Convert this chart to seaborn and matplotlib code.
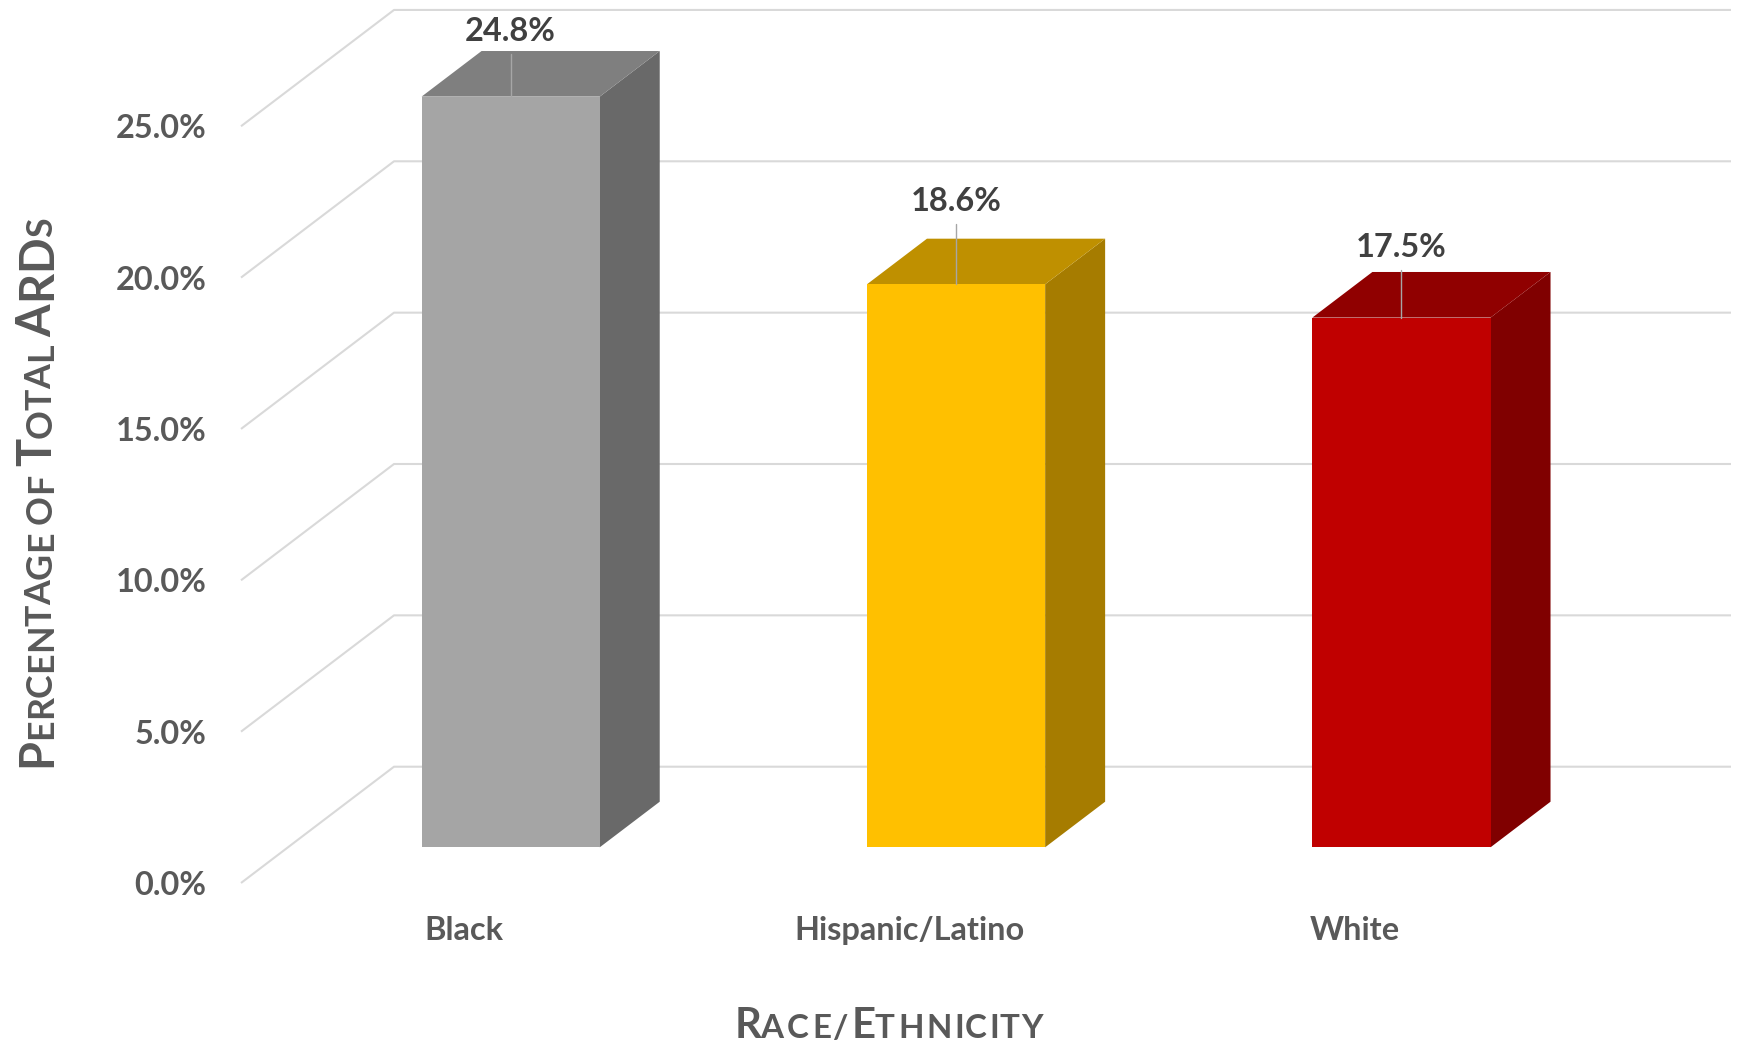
import numpy as np
import pandas as pd
import seaborn as sns
import matplotlib
matplotlib.use("Agg")
import matplotlib.pyplot as plt
from matplotlib.patches import Polygon
from matplotlib.transforms import Affine2D
from matplotlib.font_manager import FontProperties, findfont
from matplotlib.ft2font import FT2Font
try:
    from matplotlib.ft2font import LoadFlags
    NO_HINT = LoadFlags.NO_HINTING
except ImportError:
    from matplotlib.ft2font import LOAD_NO_HINTING as NO_HINT

# ---------------- data ----------------
categories = ["Black", "Hispanic/Latino", "White"]
values = [24.8, 18.6, 17.5]
value_labels = ["24.8%", "18.6%", "17.5%"]
y_ticks = [0, 5, 10, 15, 20, 25]
y_tick_labels = ["0.0%", "5.0%", "10.0%", "15.0%", "20.0%", "25.0%"]
front_colors = ["#a5a5a5", "#ffc000", "#c00000"]
side_colors = ["#696969", "#a67c00", "#800000"]
top_colors = ["#7f7f7f", "#bf9000", "#900000"]
# small-caps titles: (text, "L" = full cap / "S" = small cap), words separated
x_title_words = [[("R", "L"), ("ACE/", "S"), ("E", "L"), ("THNICITY", "S")]]
y_title_words = [[("P", "L"), ("ERCENTAGE", "S")], [("OF", "S")],
                 [("T", "L"), ("OTAL", "S")], [("ARD", "L"), ("S", "S")]]

# ---------------- style / geometry ----------------
W, H = 1740, 1050
PX_CAT = 445.4      # pixels per category step
PX_PCT = 30.27      # pixels per percent
AX_L, AX_R, AX_B = 241, 1731, 883
FLOOR_DX = 153 / PX_CAT     # depth of floor in x data units
FLOOR_DY = 116.3 / PX_PCT   # depth of floor in y data units
Z_FRONT, Z_BACK = 0.307, 0.699
BAR_W = 0.4
GRID_C = "#d9d9d9"
TXT_C = "#595959"
LBL_C = "#404040"
label_offsets_px = [56, 73, 61]
FONT = "Lato"

sns.set_theme(style="white")
plt.rcParams["font.family"] = [FONT, "DejaVu Sans"]
plt.rcParams["font.weight"] = "bold"

fig = plt.figure(figsize=(W / 100, H / 100), dpi=100)
ax = fig.add_axes([AX_L / W, (H - AX_B) / H, (AX_R - AX_L) / W, AX_B / H])

df = pd.DataFrame({"category": categories, "value": values})
sns.barplot(data=df, x="category", y="value", hue="category", palette=front_colors,
            width=BAR_W, saturation=1, errorbar=None, legend=False, ax=ax,
            linewidth=0, zorder=3)

xmin = -0.5
xmax = -0.5 + (AX_R - AX_L) / PX_CAT
ax.set_xlim(xmin, xmax)
ax.set_ylim(0, AX_B / PX_PCT)

# gridlines on floor diagonal + back wall
for v in y_ticks:
    ax.plot([xmin, xmin + FLOOR_DX, xmax], [v, v + FLOOR_DY, v + FLOOR_DY],
            color=GRID_C, lw=1.5, zorder=1, clip_on=False, solid_capstyle="butt")

# 3D bars
shift_x, shift_y = FLOOR_DX * Z_FRONT, FLOOR_DY * Z_FRONT
ddx, ddy = FLOOR_DX * (Z_BACK - Z_FRONT), FLOOR_DY * (Z_BACK - Z_FRONT)
patches = list(ax.patches)
for i, p in enumerate(patches):
    p.set_transform(Affine2D().translate(shift_x, shift_y) + ax.transData)
    p.set_zorder(3)
    x0 = p.get_x() + shift_x
    x1 = x0 + p.get_width()
    y0 = p.get_y() + shift_y
    yt = y0 + p.get_height()
    side = Polygon([(x1, y0), (x1 + ddx, y0 + ddy), (x1 + ddx, yt + ddy), (x1, yt)],
                   closed=True, facecolor=side_colors[i], edgecolor="none", zorder=2.9)
    top = Polygon([(x0, yt), (x1, yt), (x1 + ddx, yt + ddy), (x0 + ddx, yt + ddy)],
                  closed=True, facecolor=top_colors[i], edgecolor="none", zorder=2.9)
    ax.add_patch(side)
    ax.add_patch(top)
    cx = (x0 + x1) / 2
    off_px = label_offsets_px[i]
    line_px = off_px - 13
    ax.plot([cx, cx], [yt, yt + line_px / PX_PCT], color="#a6a6a6", lw=1.0, zorder=4)
    ax.annotate(value_labels[i], xy=(cx, yt), xytext=(0, off_px * 0.72),
                textcoords="offset points", ha="center", va="baseline",
                fontsize=23.4, fontweight="bold", color=LBL_C, zorder=5)

# ticks
ax.set_yticks(y_ticks)
ax.set_yticklabels(y_tick_labels)
ax.set_xticks(range(len(categories)))
ax.set_xticklabels(categories)
ax.tick_params(axis="y", length=0, pad=24.7, labelsize=23.4, labelcolor=TXT_C)
ax.tick_params(axis="x", length=0, pad=24.0, labelsize=23.4, labelcolor=TXT_C)
for lab in ax.get_xticklabels() + ax.get_yticklabels():
    lab.set_fontweight("bold")
ax.set_xlabel("")
ax.set_ylabel("")
for s in ax.spines.values():
    s.set_visible(False)
ax.grid(False)

# ---------------- small-caps titles (char by char) ----------------
ft = FT2Font(findfont(FontProperties(family=FONT, weight="bold")))


def glyph(ch, size_pt):
    ft.set_size(size_pt, 100)
    g = ft.load_char(ord(ch), flags=NO_HINT)
    return g.linearHoriAdvance / 65536, g.horiBearingX / 64, g.width / 64


def build_chars(words, sizes):
    chars = []
    for wi, word in enumerate(words):
        if wi:
            chars.append((" ", sizes["S"]))
        for txt, kind in word:
            for ch in txt:
                chars.append((ch, sizes[kind]))
    return chars


def natural_len(chars):
    mets = [glyph(ch, sz) for ch, sz in chars]
    nat = sum(m[0] for m in mets[:-1]) + mets[-1][1] + mets[-1][2] - mets[0][1]
    return nat, mets


def char_layout(words, sizes, target):
    nat, _ = natural_len(build_chars(words, sizes))
    ratio = target / nat
    scale = ratio if ratio < 1 else ratio ** 0.5
    sizes = {k: v * scale for k, v in sizes.items()}
    chars = build_chars(words, sizes)
    nat, mets = natural_len(chars)
    track = max(0.0, (target - nat) / (len(chars) - 1))
    out = []
    pen = 0.0
    for (ch, sz), (adv, bx, gw) in zip(chars, mets):
        if ch != " ":
            out.append((pen + bx - mets[0][1], ch, sz))
        pen += adv + track
    return out


# x title
for pos, ch, sz in char_layout(x_title_words, {"L": 27.4, "S": 21.8}, 307.7):
    fig.text((735 + pos) / W, 1 - 1038.3 / H, ch, ha="left", va="baseline",
             fontsize=sz, fontweight="bold", color=TXT_C)

# y title
for pos, ch, sz in char_layout(y_title_words, {"L": 35.2, "S": 26.8}, 547):
    fig.text(51.7 / W, 1 - (767 - pos) / H, ch, ha="left", va="baseline",
             rotation=90, rotation_mode="anchor",
             fontsize=sz, fontweight="bold", color=TXT_C)

fig.savefig("out.png", dpi=100)
